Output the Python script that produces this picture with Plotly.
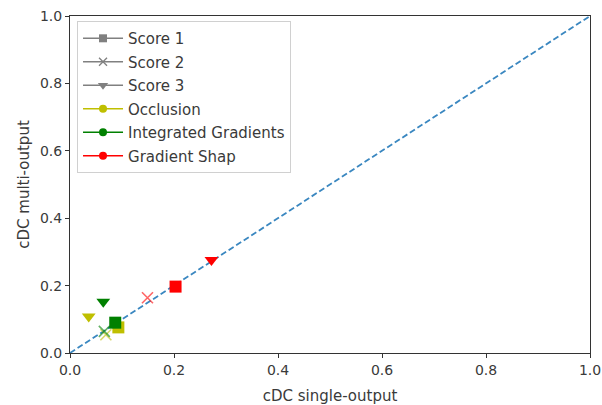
import plotly.graph_objects as go

methods = ["Occlusion", "Integrated Gradients", "Gradient Shap"]
method_colors = ["#bfbf00", "#008000", "#ff0000"]
score_names = ["Score 1", "Score 2", "Score 3"]
score_symbols = ["square", "x-thin", "triangle-down"]

# values per method, order: Score 1, Score 2, Score 3
single_output = {
    "Occlusion": [0.093, 0.069, 0.036],
    "Integrated Gradients": [0.087, 0.066, 0.064],
    "Gradient Shap": [0.203, 0.149, 0.272],
}
multi_output = {
    "Occlusion": [0.076, 0.054, 0.108],
    "Integrated Gradients": [0.09, 0.064, 0.152],
    "Gradient Shap": [0.197, 0.164, 0.276],
}

diag_x = [0.0, 1.0]
diag_y = [0.0, 1.0]

fig = go.Figure()

fig.add_trace(go.Scatter(
    x=diag_x, y=diag_y, mode="lines",
    line=dict(color="#3a87c0", width=1.8, dash="6px,3px"),
    showlegend=False, hoverinfo="skip"))

for m, c in zip(methods, method_colors):
    for i, (sn, sym) in enumerate(zip(score_names, score_symbols)):
        if sym == "x-thin":
            mk = dict(symbol=sym, size=11, color=c, line=dict(color=c, width=1.6), opacity=0.6)
        else:
            mk = dict(symbol=sym, size=12, color=c, line=dict(width=0))
        fig.add_trace(go.Scatter(
            x=[single_output[m][i]], y=[multi_output[m][i]], mode="markers",
            marker=mk, showlegend=False))

# legend entries
for k, (sn, sym) in enumerate(zip(score_names, score_symbols)):
    if sym == "x-thin":
        mk = dict(symbol=sym, size=8, color="#808080", line=dict(color="#808080", width=1.3))
    else:
        mk = dict(symbol=sym, size=9 if sym == "triangle-down" else 8, color="#808080", line=dict(width=0))
    fig.add_trace(go.Scatter(
        x=[None], y=[None], mode="lines+markers", name=sn,
        line=dict(color="#808080", width=1.5), marker=mk,
        legendgroup="g%d" % k))
for k, (m, c) in enumerate(zip(methods, method_colors)):
    fig.add_trace(go.Scatter(
        x=[None], y=[None], mode="lines+markers", name=m,
        line=dict(color=c, width=1.5), marker=dict(symbol="circle", size=8, color=c),
        legendgroup="h%d" % k))

axis_common = dict(
    range=[0, 1], dtick=0.2, tickformat=".1f",
    showgrid=False, zeroline=False, automargin=False,
    showline=True, linecolor="#333333", linewidth=1, mirror=True,
    ticks="outside", ticklen=4, tickcolor="#333333",
    tickfont=dict(family="DejaVu Sans", size=14, color="#3a3a3a"),
)

fig.update_layout(
    width=602, height=405,
    margin=dict(l=70, r=12, t=16, b=52),
    paper_bgcolor="white", plot_bgcolor="white",
    font=dict(family="DejaVu Sans", size=14, color="#3a3a3a"),
    xaxis=dict(**axis_common, title=dict(text="cDC single-output", standoff=13,
               font=dict(size=15, color="#3a3a3a"))),
    yaxis=dict(**axis_common, title=dict(text="cDC multi-output", standoff=6,
               font=dict(size=15, color="#3a3a3a"))),
    legend=dict(x=0.0135, y=0.985, xanchor="left", yanchor="top",
                bgcolor="rgba(255,255,255,0.8)", bordercolor="#d0d0d0", borderwidth=1,
                font=dict(family="DejaVu Sans", size=15, color="#3a3a3a"),
                tracegroupgap=1, traceorder="grouped", itemwidth=40),
)

fig.write_html("out.html")
